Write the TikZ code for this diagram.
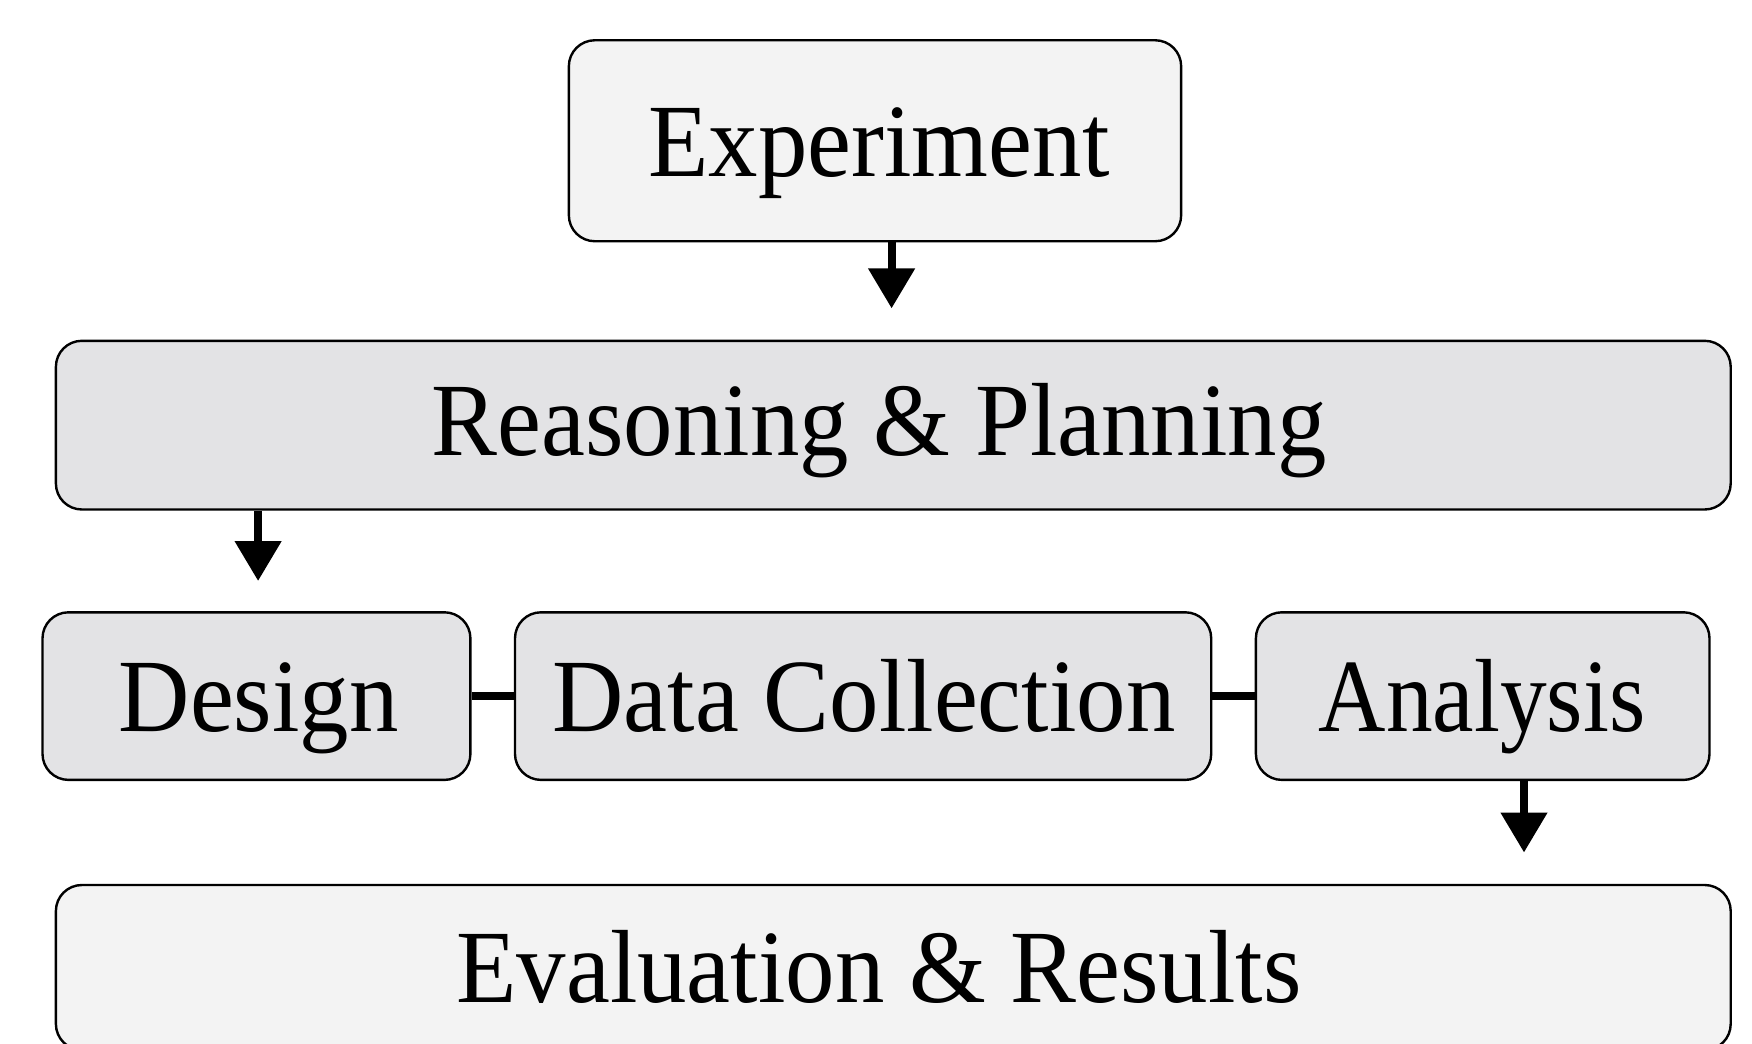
\documentclass[tikz,border=0pt]{standalone}
\usepackage{fontspec}
\usepackage{graphicx}
\setmainfont{Liberation Serif}[FakeStretch=0.95]
\usetikzlibrary{arrows.meta}
\definecolor{boxlight}{HTML}{F3F3F3}
\definecolor{boxgrey}{HTML}{E3E3E5}
\tikzset{
  stage/.style={draw=black, line width=1.2pt, rounded corners=13pt, inner sep=0pt},
  lightstage/.style={stage, fill=boxlight},
  greystage/.style={stage, fill=boxgrey},
  stagetext/.style={font=\fontsize{52}{60}\selectfont, inner sep=0pt, anchor=base},
  flow/.style={line width=4pt, -{Triangle[length=20pt,width=22.5pt]}},
  link/.style={line width=4pt}
}
\begin{document}
\begin{tikzpicture}[x=0.5pt,y=-0.5pt]
  \path[use as bounding box, fill=white] (0,0) rectangle (1752,1044);
  \clip (0,0) rectangle (1752,1044);

  % stage boxes
  \node[lightstage, minimum width=306.15pt, minimum height=100.5pt] (exp) at (875,140.75) {};
  \node[greystage, minimum width=837.4pt, minimum height=84.35pt] (plan) at (893.3,425.15) {};
  \node[greystage, minimum width=213.95pt, minimum height=83.8pt] (design) at (256.45,696.1) {};
  \node[greystage, minimum width=348.1pt, minimum height=83.8pt] (data) at (863.1,696.1) {};
  \node[greystage, minimum width=226.8pt, minimum height=83.8pt] (analysis) at (1482.7,696.1) {};
  \node[lightstage, minimum width=837.4pt, minimum height=82.5pt] (eval) at (893.3,967.5) {};

  % stage titles
  \node[stagetext] (expT) at (879,176.5) {Experiment};
  \node[stagetext] (planT) at (879,455.9) {Reasoning \& Planning};
  \node[stagetext] (designT) at (258.7,731.8) {Design};
  \node[stagetext] (dataT) at (864,731.8) {Data Collection};
  \node[stagetext] (analysisT) at (1482,731.8) {\scalebox{0.945}[1]{Analysis}};
  \node[stagetext] (evalT) at (879,1002.2) {Evaluation \& Results};

  % arrow tips
  \coordinate (t1) at (891.6,308.4);
  \coordinate (t2) at (258.1,581);
  \coordinate (t3) at (1524,852.5);

  % flow between stages
  \draw[flow] (exp.south -| t1) -- (t1);
  \draw[flow] (plan.south -| t2) -- (t2);
  \draw[flow] (analysis.south -| t3) -- (t3);
  \draw[link] (design.east) -- (data.west);
  \draw[link] (data.east) -- (analysis.west);
\end{tikzpicture}
\end{document}
